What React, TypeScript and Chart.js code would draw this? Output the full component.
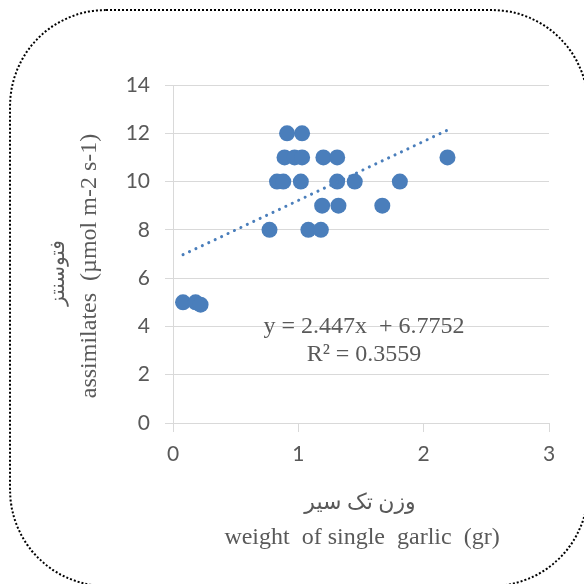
import React, { useEffect, useRef } from "react";
import { Chart, registerables } from "chart.js";

Chart.register(...registerables);

// Observations: weight of single garlic (gr) vs assimilates (µmol m-2 s-1)
const weightX = [
  0.08, 0.18, 0.22,
  0.77, 1.08, 1.18,
  1.19, 1.32, 1.67,
  0.83, 0.88, 1.02, 1.31, 1.45, 1.81,
  0.89, 0.97, 1.03, 1.2, 1.31, 2.19,
  0.91, 1.03,
];
const assimY = [
  5.0, 5.0, 4.9,
  8, 8, 8,
  9, 9, 9,
  10, 10, 10, 10, 10, 10,
  11, 11, 11, 11, 11, 11,
  12, 12,
];

// Linear trendline endpoints (as shown in the picture)
const trendX = [0.08, 2.19];
const trendY = [6.97, 12.13];

const equationText = "y = 2.447x  + 6.7752";
const rSquaredText = "R² = 0.3559";

const xTitleFa = "وزن تک سیر";
const xTitleEn = "weight  of single  garlic  (gr)";
const yTitleFa = "فتوسنتز";
const yTitleEn = "assimilates  (µmol m-2 s-1)";

const xTicks = { min: 0, max: 3, step: 1 };
const yTicks = { min: 0, max: 14, step: 2 };

const GREY_TEXT = "#595959";
const GRID = "#d9d9d9";
const BLUE = "#4a7ebb";

const textPlugin = {
  id: "textPlugin",
  afterDraw(chart: any) {
    const ctx = chart.ctx as CanvasRenderingContext2D;
    const ca = chart.chartArea;
    ctx.save();
    ctx.fillStyle = GREY_TEXT;
    ctx.textBaseline = "alphabetic";
    ctx.textAlign = "center";

    // Equation + R²
    ctx.font = "24px 'Liberation Serif', 'Times New Roman', serif";
    const eqX = ca.left + 191;
    ctx.fillText(equationText, eqX, ca.bottom - 90);
    ctx.fillText(rSquaredText, eqX, ca.bottom - 62);

    // X axis titles
    ctx.font = "22px 'Liberation Serif', 'DejaVu Sans', serif";
    ctx.fillText(xTitleFa, 360, ca.bottom + 86);
    ctx.font = "24px 'Liberation Serif', 'Times New Roman', serif";
    ctx.fillText(xTitleEn, 362, ca.bottom + 121);

    // Y axis titles (rotated)
    ctx.save();
    ctx.translate(96, 266);
    ctx.rotate(-Math.PI / 2);
    ctx.font = "24px 'Liberation Serif', 'Times New Roman', serif";
    ctx.fillText(yTitleEn, 0, 0);
    ctx.restore();

    ctx.save();
    ctx.translate(64, 273);
    ctx.rotate(-Math.PI / 2);
    ctx.font = "20px 'Liberation Serif', 'DejaVu Sans', serif";
    ctx.fillText(yTitleFa, 0, 0);
    ctx.restore();

    ctx.restore();
  },
};

export default function App() {
  const canvasRef = useRef<HTMLCanvasElement | null>(null);

  useEffect(() => {
    if (!canvasRef.current) return;
    const points = weightX.map((x, i) => ({ x, y: assimY[i] }));
    const trend = trendX.map((x, i) => ({ x, y: trendY[i] }));
    const chart = new Chart(canvasRef.current, {
      type: "scatter",
      data: {
        datasets: [
          {
            type: "line",
            data: trend,
            borderColor: BLUE,
            borderWidth: 3,
            borderDash: [0.1, 7],
            borderCapStyle: "round",
            pointRadius: 0,
            fill: false,
            showLine: true,
          } as any,
          {
            data: points,
            backgroundColor: BLUE,
            borderColor: BLUE,
            borderWidth: 0,
            pointRadius: 8,
            pointHoverRadius: 8,
          },
        ],
      },
      options: {
        animation: false,
        responsive: false,
        maintainAspectRatio: false,
        layout: { padding: { top: 85, right: 35, bottom: 0, left: 0 } },
        plugins: {
          legend: { display: false },
          tooltip: { enabled: false },
          title: { display: false },
        },
        scales: {
          x: {
            type: "linear",
            min: xTicks.min,
            max: xTicks.max,
            ticks: {
              stepSize: xTicks.step,
              color: GREY_TEXT,
              font: { family: "Lato, 'Liberation Sans', sans-serif", size: 21 },
              padding: 10,
            },
            grid: {
              drawOnChartArea: false,
              drawTicks: true,
              tickLength: 9,
              color: GRID,
            },
            border: { display: true, color: GRID, width: 1 },
            afterFit: (s: any) => {
              s.height = 161;
            },
          },
          y: {
            type: "linear",
            min: yTicks.min,
            max: yTicks.max,
            ticks: {
              stepSize: yTicks.step,
              color: GREY_TEXT,
              font: { family: "Lato, 'Liberation Sans', sans-serif", size: 21 },
              padding: 15,
            },
            grid: {
              color: GRID,
              drawTicks: true,
              tickLength: 8,
            },
            border: { display: true, color: GRID, width: 1 },
            afterFit: (s: any) => {
              s.width = 173;
            },
          },
        },
      },
      plugins: [textPlugin],
    });
    return () => chart.destroy();
  }, []);

  return (
    <div
      style={{
        position: "fixed",
        left: 0,
        top: 0,
        width: 584,
        height: 584,
        overflow: "hidden",
        background: "#fff",
      }}
    >
      <div
        style={{
          position: "absolute",
          left: 9,
          top: 9,
          width: 580,
          height: 578,
          boxSizing: "border-box",
          border: "2px dotted #000",
          borderRadius: 97,
        }}
      />
      <canvas
        ref={canvasRef}
        width={584}
        height={584}
        style={{ position: "absolute", left: 0, top: 0, width: 584, height: 584 }}
      />
    </div>
  );
}
